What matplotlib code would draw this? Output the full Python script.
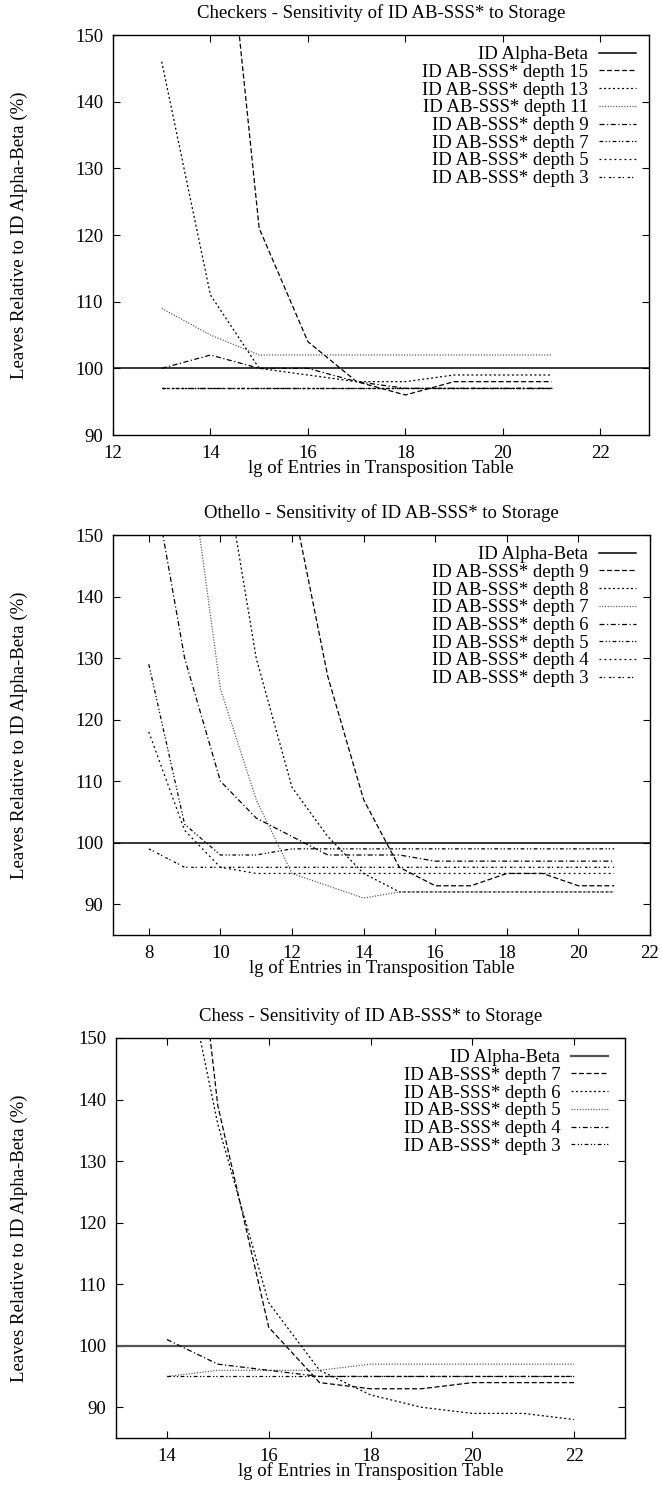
import matplotlib
matplotlib.use('Agg')
import matplotlib.pyplot as plt

plt.rcParams['font.family'] = ['Liberation Serif', 'DejaVu Serif']
plt.rcParams['font.size'] = 13.5

# ---- Checkers (lg entries 13..21)
checkers_x = [13, 14, 15, 16, 17, 18, 19, 20, 21]
checkers_labels = ['ID AB-SSS* depth 15', 'ID AB-SSS* depth 13', 'ID AB-SSS* depth 11',
                   'ID AB-SSS* depth 9', 'ID AB-SSS* depth 7', 'ID AB-SSS* depth 5',
                   'ID AB-SSS* depth 3']
checkers_d15 = [290, 192, 121, 104, 98, 96, 98, 98, 98]
checkers_d13 = [146, 111, 100, 99, 98, 98, 99, 99, 99]
checkers_d11 = [109, 105, 102, 102, 102, 102, 102, 102, 102]
checkers_d9 = [100, 102, 100, 100, 98, 97, 97, 97, 97]
checkers_d7 = [97, 97, 97, 97, 97, 97, 97, 97, 97]
checkers_d5 = [97, 97, 97, 97, 97, 97, 97, 97, 97]
checkers_d3 = [97, 97, 97, 97, 97, 97, 97, 97, 97]

# ---- Othello (lg entries 8..21)
othello_x = [8, 9, 10, 11, 12, 13, 14, 15, 16, 17, 18, 19, 20, 21]
othello_labels = ['ID AB-SSS* depth 9', 'ID AB-SSS* depth 8', 'ID AB-SSS* depth 7',
                  'ID AB-SSS* depth 6', 'ID AB-SSS* depth 5', 'ID AB-SSS* depth 4',
                  'ID AB-SSS* depth 3']
othello_d9 = [400, 330, 260, 210, 156, 127, 107, 96, 93, 93, 95, 95, 93, 93]
othello_d8 = [300, 240, 165, 130, 109, 101, 95, 92, 92, 92, 92, 92, 92, 92]
othello_d7 = [250, 168, 125, 107, 95, 93, 91, 92, 92, 92, 92, 92, 92, 92]
othello_d6 = [163, 130, 110, 104, 101, 98, 98, 98, 97, 97, 97, 97, 97, 97]
othello_d5 = [129, 103, 98, 98, 99, 99, 99, 99, 99, 99, 99, 99, 99, 99]
othello_d4 = [118, 102, 96, 95, 95, 95, 95, 95, 95, 95, 95, 95, 95, 95]
othello_d3 = [99, 96, 96, 96, 96, 96, 96, 96, 96, 96, 96, 96, 96, 96]

# ---- Chess (lg entries 14..22)
chess_x = [14, 15, 16, 17, 18, 19, 20, 21, 22]
chess_labels = ['ID AB-SSS* depth 7', 'ID AB-SSS* depth 6', 'ID AB-SSS* depth 5',
                'ID AB-SSS* depth 4', 'ID AB-SSS* depth 3']
chess_d7 = [212, 139, 103, 94, 93, 93, 94, 94, 94]
chess_d6 = [176, 136, 107, 96, 92, 90, 89, 89, 88]
chess_d5 = [95, 96, 96, 96, 97, 97, 97, 97, 97]
chess_d4 = [101, 97, 96, 95, 95, 95, 95, 95, 95]
chess_d3 = [95, 95, 95, 95, 95, 95, 95, 95, 95]

# gnuplot-like line types 2..8
styles = [
    dict(color='black', ls=(0, (4, 2))),
    dict(color='black', ls=(0, (1.6, 2))),
    dict(color='#555555', ls=(0, (0.9, 1.3))),
    dict(color='black', ls=(0, (4, 2, 1, 2))),
    dict(color='black', ls=(0, (3, 2, 1, 1.5, 1, 2))),
    dict(color='black', ls=(0, (1.5, 2.5))),
    dict(color='black', ls=(0, (2, 1.5, 1, 3))),
]

W, H = 662, 1488
fig = plt.figure(figsize=(W / 100, H / 100), dpi=100)


def make_panel(box, title, xs, series, labels, xlim, ylim, xticks, ab_color, leg_right, ylab_x):
    left, top, right, bottom = box
    ax = fig.add_axes([left / W, 1 - bottom / H, (right - left) / W, (bottom - top) / H])
    ax.axhline(100, color=ab_color, lw=1.1 if ab_color == 'black' else 1.6, label='ID Alpha-Beta')
    for ys, lab, st in zip(series, labels, styles):
        ax.plot(xs, ys, lw=0.9, label=lab, **st)
    ax.set_xlim(*xlim)
    ax.set_ylim(*ylim)
    ax.set_xticks(xticks)
    ax.set_yticks([90, 100, 110, 120, 130, 140, 150])
    ax.tick_params(direction='in', top=True, right=True, length=5, width=0.8, pad=7)
    ax.tick_params(axis='x', pad=7)
    for sp in ax.spines.values():
        sp.set_linewidth(1.0)
    ax.set_title(title, fontsize=13.5, pad=12)
    ax.set_xlabel('lg of Entries in Transposition Table', labelpad=-2)
    ax.set_ylabel('Leaves Relative to ID Alpha-Beta (%)')
    ax.yaxis.set_label_coords((ylab_x - left) / (right - left), 0.5)
    ax.legend(loc='upper right', bbox_to_anchor=((leg_right - left) / (right - left), 0.972),
              frameon=False, markerfirst=False, alignment='right', borderpad=0,
              handlelength=2.0, handletextpad=0.55, labelspacing=0.03, borderaxespad=0)
    return ax


make_panel((113, 35, 649, 435), 'Checkers - Sensitivity of ID AB-SSS* to Storage',
           checkers_x,
           [checkers_d15, checkers_d13, checkers_d11, checkers_d9, checkers_d7, checkers_d5, checkers_d3],
           checkers_labels, (12, 23), (90, 150), [12, 14, 16, 18, 20, 22], 'black', 636, 28)

make_panel((113, 535, 650, 935), 'Othello - Sensitivity of ID AB-SSS* to Storage',
           othello_x,
           [othello_d9, othello_d8, othello_d7, othello_d6, othello_d5, othello_d4, othello_d3],
           othello_labels, (7, 22), (85, 150), [8, 10, 12, 14, 16, 18, 20, 22], 'black', 636, 28)

make_panel((116, 1038, 625, 1438), 'Chess - Sensitivity of ID AB-SSS* to Storage',
           chess_x,
           [chess_d7, chess_d6, chess_d5, chess_d4, chess_d3],
           chess_labels, (13, 23), (85, 150), [14, 16, 18, 20, 22], '#555555', 608, 28)

fig.savefig('out.png', dpi=100)
